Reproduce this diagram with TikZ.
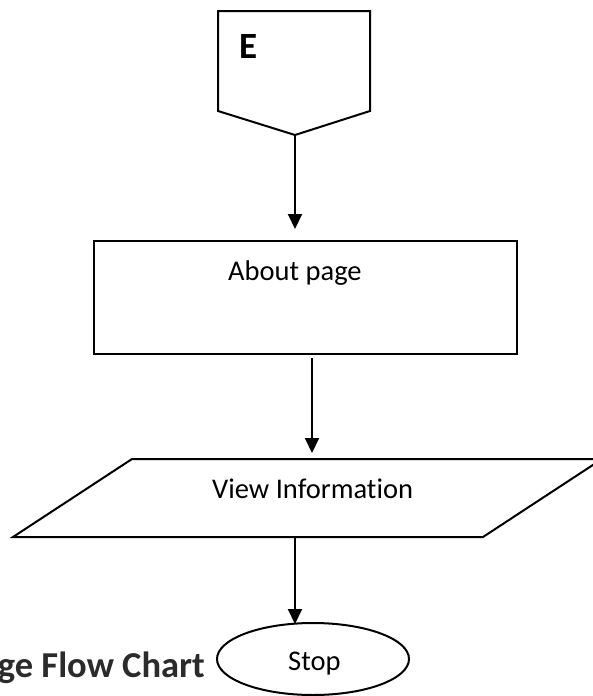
\documentclass[tikz,border=0pt]{standalone}
\usepackage{fontspec}
\setmainfont{Carlito}[Ligatures=NoCommon]
\usetikzlibrary{arrows.meta,shapes.geometric}
\definecolor{titlegray}{HTML}{2B2B2B}
\tikzset{
  shapeline/.style={draw=black, line width=2pt, line join=miter},
  conn/.style={draw=black, line width=2pt, -{Triangle[length=15pt,width=14pt]}},
  lbl/.style={inner sep=0pt, anchor=base west, font=\fontsize{28.5}{30}\selectfont},
}
\begin{document}
\begin{tikzpicture}[x=1pt,y=-1pt]
\useasboundingbox (0,0) rectangle (593,696);
\clip (0,0) rectangle (593,696);
\fill[white] (0,0) rectangle (593,696);
% offpage connector E
\draw[shapeline] (218,11) -- (370,11) -- (370,111) -- (295,135) -- (218,111) -- cycle;
\coordinate (eTip) at (295,135);
\node[lbl, font=\fontsize{37}{40}\selectfont\bfseries] (eLabel) at (239,58) {E};
% About page rectangle
\node[shapeline, rectangle, minimum width=423pt, minimum height=113pt, inner sep=0pt] (about) at (305.5,297.5) {};
\node[lbl] (aboutText) at (228,280) {About page};
\coordinate (a1end) at (295,229);
\coordinate (a2start) at (312,358);
\coordinate (a2end) at (312,453);
% View Information parallelogram
\draw[shapeline] (132,459) -- (602,459) -- (483,537) -- (13,537) -- cycle;
\node[lbl] (viewText) at (212,498) {View Information};
\coordinate (a3start) at (295,537);
% Stop ellipse
\node[shapeline, ellipse, minimum width=192pt, minimum height=72pt, inner sep=0pt] (stop) at (313,659) {};
\node[lbl] (stopText) at (288,670) {Stop};
\coordinate (a3end) at (295,624);
% title
\node[inner sep=0pt, anchor=base east, text=titlegray, font=\fontsize{36.5}{40}\selectfont\bfseries] (title) at (205,677) {ge Flow Chart};
% connectors
\draw[conn] (eTip) -- (a1end);
\draw[conn] (a2start) -- (a2end);
\draw[conn] (a3start) -- (a3end);
\end{tikzpicture}
\end{document}
